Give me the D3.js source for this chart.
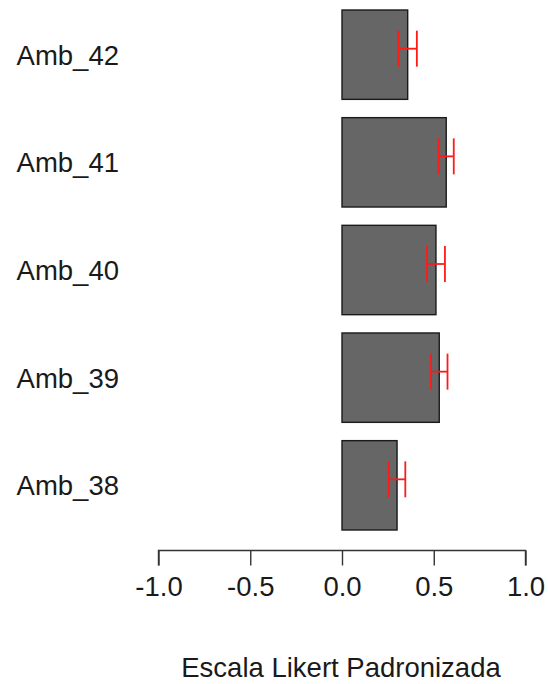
<!DOCTYPE html>
<html>
<head>
<meta charset="utf-8">
<script src="https://cdn.jsdelivr.net/npm/d3@7"></script>
<style>
  body { margin: 0; background: #fff; }
  text { font-family: "Liberation Sans", Arial, sans-serif; fill: #1a1a1a; }
</style>
</head>
<body>
<div id="chart"></div>
<script>
// data
var categories = ["Amb_42", "Amb_41", "Amb_40", "Amb_39", "Amb_38"];
var means = [0.358, 0.568, 0.512, 0.530, 0.300];
var errors = [0.050, 0.041, 0.049, 0.045, 0.045];
var tickValues = [-1.0, -0.5, 0.0, 0.5, 1.0];
var axisTitle = "Escala Likert Padronizada";

var W = 548, H = 684;
var fontSize = 27.5;

var svg = d3.select("#chart").append("svg")
  .attr("width", W).attr("height", H);

var x = d3.scaleLinear().domain([-1, 1]).range([158.5, 525.5]);
var y = d3.scaleBand().domain(categories).range([10, 530])
  .paddingInner(0.17).paddingOuter(0);

var rows = categories.map(function(c, i) {
  return {name: c, value: means[i], err: errors[i]};
});

// bars
svg.selectAll("rect.bar")
  .data(rows)
  .enter()
  .append("rect")
  .attr("class", "bar")
  .attr("x", function(d) { return x(Math.min(0, d.value)); })
  .attr("y", function(d) { return y(d.name); })
  .attr("width", function(d) { return Math.abs(x(d.value) - x(0)); })
  .attr("height", y.bandwidth())
  .attr("fill", "#666666")
  .attr("stroke", "#1a1a1a")
  .attr("stroke-width", 1.4);

// error bars (sit a little above the bar centre)
var capHalf = 18, errShift = -6;
var eb = svg.selectAll("g.err")
  .data(rows)
  .enter()
  .append("g")
  .attr("class", "err")
  .attr("stroke", "#ff1a1a")
  .attr("stroke-width", 1.8);

eb.append("line")
  .attr("x1", function(d) { return x(d.value - d.err); })
  .attr("x2", function(d) { return x(d.value + d.err); })
  .attr("y1", function(d) { return y(d.name) + y.bandwidth() / 2 + errShift; })
  .attr("y2", function(d) { return y(d.name) + y.bandwidth() / 2 + errShift; });

[-1, 1].forEach(function(s) {
  eb.append("line")
    .attr("x1", function(d) { return x(d.value + s * d.err); })
    .attr("x2", function(d) { return x(d.value + s * d.err); })
    .attr("y1", function(d) { return y(d.name) + y.bandwidth() / 2 + errShift - capHalf; })
    .attr("y2", function(d) { return y(d.name) + y.bandwidth() / 2 + errShift + capHalf; });
});

// category labels
svg.selectAll("text.cat")
  .data(rows)
  .enter()
  .append("text")
  .attr("class", "cat")
  .attr("x", 119)
  .attr("y", function(d) { return y(d.name) + y.bandwidth() / 2; })
  .attr("dy", "0.36em")
  .attr("text-anchor", "end")
  .style("font-size", fontSize + "px")
  .text(function(d) { return d.name; });

// x axis
var axis = svg.append("g")
  .attr("transform", "translate(0,550.5)")
  .call(d3.axisBottom(x)
    .tickValues(tickValues)
    .tickSize(15)
    .tickPadding(11)
    .tickFormat(d3.format(".1f")));

axis.select(".domain")
  .attr("d", "M" + x(-1) + ",15V0H" + x(1) + "V15")
  .attr("stroke", "#333")
  .attr("stroke-width", 1.4);
axis.selectAll(".tick line").attr("stroke", "#333").attr("stroke-width", 1.4);
axis.selectAll(".tick text")
  .style("font-size", fontSize + "px")
  .style("font-family", "'Liberation Sans', Arial, sans-serif")
  .attr("fill", "#1a1a1a")
  .text(function(d) { return d3.format(".1f")(d).replace("−", "-"); });

svg.append("text")
  .attr("x", (x(-1) + x(1)) / 2 - 1)
  .attr("y", 676.5)
  .attr("text-anchor", "middle")
  .style("font-size", fontSize + "px")
  .text(axisTitle);
</script>
</body>
</html>
